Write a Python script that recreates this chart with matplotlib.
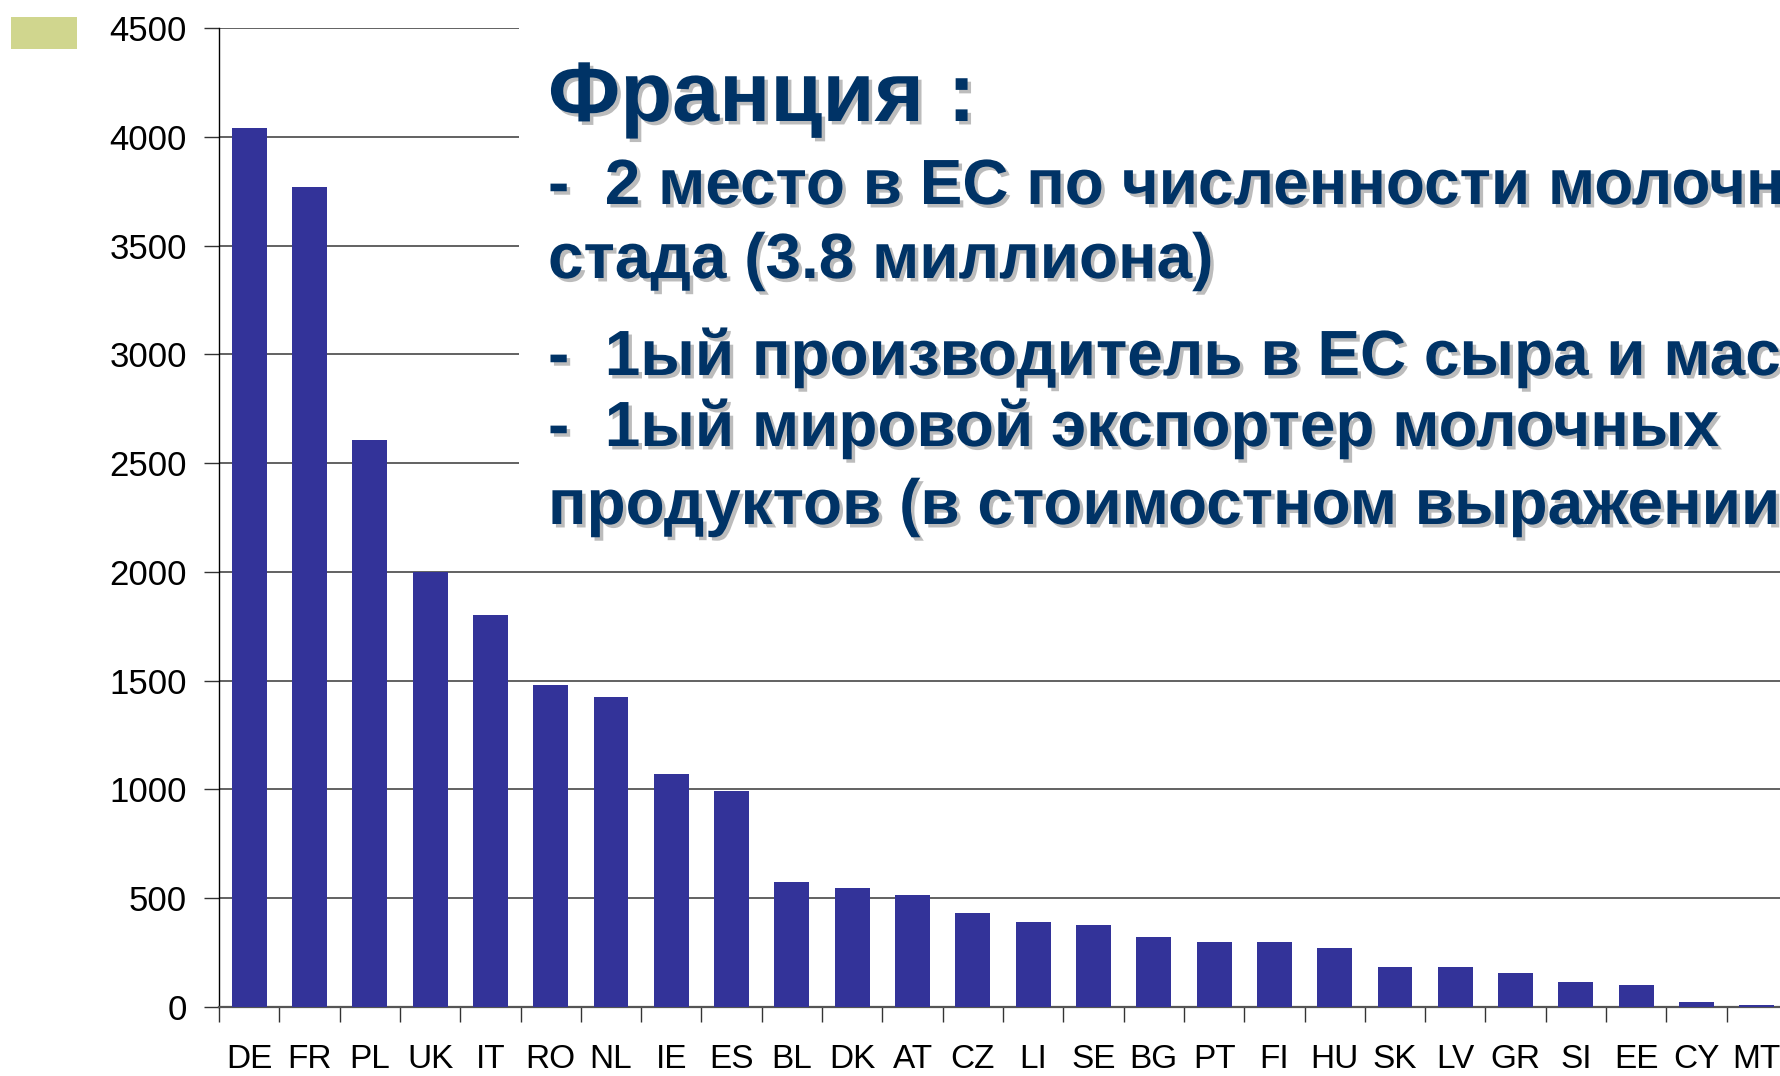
"""Dairy herd by EU member state (thousand head) with a France call-out box."""
import matplotlib
matplotlib.use("Agg")
import matplotlib.pyplot as plt
import matplotlib.patheffects as pe
from matplotlib.patches import Rectangle
import numpy as np

countries = ["DE", "FR", "PL", "UK", "IT", "RO", "NL", "IE", "ES", "BL", "DK", "AT", "CZ",
             "LI", "SE", "BG", "PT", "FI", "HU", "SK", "LV", "GR", "SI", "EE", "CY", "MT"]
herd = [4040, 3770, 2605, 2000, 1800, 1478, 1425, 1070, 995, 574, 548, 517, 433,
        392, 376, 324, 298, 298, 271, 183, 183, 157, 115, 99, 21, 10]
y_ticks = [0, 500, 1000, 1500, 2000, 2500, 3000, 3500, 4000, 4500]

title = "Франция :"
bullets = [
    "-  2 место в ЕС по численности молочного",
    "стада (3.8 миллиона)",
    "-  1ый производитель в ЕС сыра и масла",
    "-  1ый мировой экспортер молочных",
    "продуктов (в стоимостном выражении)",
]

W, H = 1780, 1076
BAR = "#333399"
TXT = "#003366"
GRID = "#555555"

plt.rcParams["font.family"] = ["Liberation Sans", "DejaVu Sans"]

fig = plt.figure(figsize=(W / 100, H / 100), dpi=100)
ax = fig.add_axes([219 / W, 69 / H, (1787 - 219) / W, (1007 - 28) / H])

x = np.arange(len(countries))
ax.bar(x, herd, width=0.58, color=BAR, zorder=3)
ax.set_xlim(-0.5, len(countries) - 0.5)
ax.set_ylim(0, 4500)
ax.set_yticks(y_ticks)
ax.set_yticklabels([str(v) for v in y_ticks], fontsize=25)
ax.yaxis.grid(True, color=GRID, lw=1.3, zorder=0)
ax.set_axisbelow(True)

# Excel-style: ticks between categories, labels centred on bars
ax.set_xticks(np.arange(len(countries) + 1) - 0.5)
ax.set_xticklabels([])
ax.set_xticks(x, minor=True)
ax.set_xticklabels(countries, minor=True, fontsize=24)
ax.tick_params(axis="x", which="major", length=11, width=1, color="#333333", direction="out")
ax.tick_params(axis="x", which="minor", length=0, pad=27)
ax.tick_params(axis="y", length=11, width=1, color="#333333", pad=12)

for s in ("top", "right"):
    ax.spines[s].set_visible(False)
ax.spines["left"].set_color("black")
ax.spines["left"].set_linewidth(1)
ax.spines["bottom"].set_color(GRID)
ax.spines["bottom"].set_linewidth(1.6)

# white text box over the upper grid lines
fig.add_artist(Rectangle((519 / W, 1 - 556 / H), 1.0, 556 / H, transform=fig.transFigure,
                         facecolor="white", edgecolor="none", zorder=2))
# stray legend swatch, top-left
fig.add_artist(Rectangle((11 / W, 1 - 49 / H), 66 / W, 32 / H, transform=fig.transFigure,
                         facecolor="#d0d68e", edgecolor="none", zorder=2))

shadow = [pe.SimplePatchShadow(offset=(2.5, -2.5), shadow_rgbFace="#a0a0a0", alpha=0.7),
          pe.Normal()]
fig.text(548 / W, 1 - 121 / H, title, fontsize=61, fontweight="bold", color=TXT,
         va="baseline", zorder=4, path_effects=shadow)
for txt, base in zip(bullets, [204, 278, 375, 446, 524]):
    fig.text(548 / W, 1 - base / H, txt, fontsize=46, fontweight="bold", color=TXT,
             va="baseline", zorder=4, path_effects=shadow)

fig.savefig("out.png", dpi=100)
